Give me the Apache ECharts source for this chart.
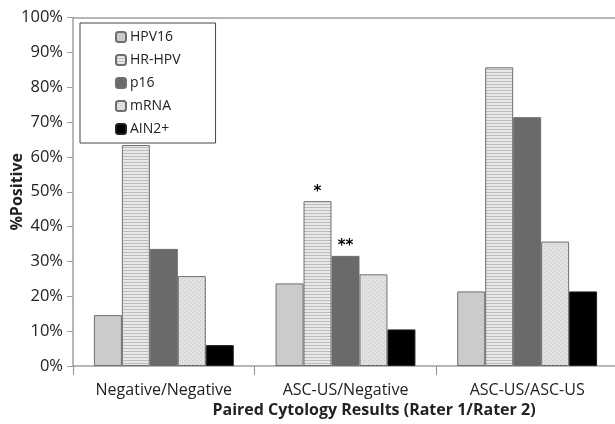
<!DOCTYPE html>
<html><head><meta charset="utf-8">
<script src="https://cdn.jsdelivr.net/npm/echarts@6/dist/echarts.min.js"></script>
<style>html,body{margin:0;padding:0;background:#fff}#c{width:615px;height:424px}</style>
</head><body><div id="c"></div>
<script>
const categories = ['Negative/Negative', 'ASC-US/Negative', 'ASC-US/ASC-US'];
const seriesNames = ['HPV16', 'HR-HPV', 'p16', 'mRNA', 'AIN2+'];
const hpv16 = [14.6, 23.7, 21.4];
const hrhpv = [63.4, 47.3, 85.7];
const p16 = [33.6, 31.6, 71.4];
const mrna = [25.8, 26.3, 35.7];
const ain2 = [6.0, 10.5, 21.4];
const annotations = { 'HR-HPV': ['', '*', ''], 'p16': ['', '**', ''] };
const yTicks = [0, 10, 20, 30, 40, 50, 60, 70, 80, 90, 100];
const xTitle = 'Paired Cytology Results (Rater 1/Rater 2)';

function pattern(bg, draw, w, h) {
  const c = document.createElement('canvas');
  c.width = w; c.height = h;
  const g = c.getContext('2d');
  g.fillStyle = bg; g.fillRect(0, 0, w, h);
  if (draw) draw(g);
  return { image: c, repeat: 'repeat' };
}
const fills = [
  pattern('#cbcbcb', null, 4, 4),
  pattern('#e8e8e8', g => { g.fillStyle = '#bcbcbc'; g.fillRect(0, 0, 4, 1); }, 4, 3),
  '#6a6a6a',
  pattern('#e2e2e2', g => { g.fillStyle = '#c4c4c4'; g.fillRect(0, 0, 1, 1); g.fillRect(2, 2, 1, 1); }, 4, 4),
  '#000000'
];
const datasets = [hpv16, hrhpv, p16, mrna, ain2];
const FONT = 'Open Sans';

const series = seriesNames.map((name, i) => ({
  name, type: 'bar', barGap: 0, barCategoryGap: '23%',
  itemStyle: { color: fills[i], borderColor: i === 4 ? '#222' : '#6e6e6e', borderWidth: 1 },
  data: datasets[i].map((v, j) => {
    const a = annotations[name] && annotations[name][j];
    return a ? { value: v, label: { show: true, position: 'top', formatter: a, distance: 2,
      fontSize: 15, fontWeight: 'bold', color: '#000', fontFamily: 'DejaVu Sans' } } : v;
  })
}));

const chart = echarts.init(document.getElementById('c'));
chart.setOption({
  animation: false,
  textStyle: { fontFamily: FONT },
  grid: { left: 73, width: 545, top: 17.5, bottom: 58, containLabel: false, outerBoundsMode: 'none' },
  legend: {
    orient: 'vertical', left: 80, top: 23,
    data: seriesNames,
    borderColor: '#444', borderWidth: 1, padding: [5, 35, 5, 35],
    itemWidth: 10, itemHeight: 10, itemGap: 5,
    textStyle: { fontSize: 14, color: '#222', fontFamily: FONT, lineHeight: 18, padding: [0, 0, 0, -1] }
  },
  xAxis: [{
    type: 'category', data: categories,
    axisLine: { lineStyle: { color: '#a0a0a0', width: 1.5 } },
    axisTick: { show: true, length: 9, lineStyle: { color: '#909090', width: 1 } },
    axisLabel: { fontSize: 16, color: '#222', margin: 16, fontFamily: FONT }
  }, {
    type: 'category', position: 'top', data: categories,
    axisLine: { lineStyle: { color: '#a0a0a0', width: 1.5 } },
    axisTick: { show: false }, axisLabel: { show: false }
  }],
  yAxis: {
    type: 'value', min: 0, max: 100, interval: 10,
    name: '%Positive', nameLocation: 'middle', nameGap: 48, nameMoveOverlap: false,
    nameTextStyle: { fontSize: 16, fontWeight: 'bold', color: '#222', fontFamily: FONT },
    axisLine: { show: true, lineStyle: { color: '#a0a0a0', width: 1.5 } },
    axisTick: { show: true, length: 6, lineStyle: { color: '#a0a0a0' } },
    splitLine: { show: false },
    axisLabel: { fontSize: 16.5, color: '#222', margin: 10, fontFamily: FONT,
      formatter: v => yTicks.includes(v) ? v + '%' : '' }
  },
  graphic: [{
    type: 'text', x: 374, y: 410, z: 10,
    style: { text: xTitle, textAlign: 'center', textVerticalAlign: 'middle',
      font: 'bold 16px "' + FONT + '"', fill: '#222' }
  }],
  series
});
</script></body></html>
